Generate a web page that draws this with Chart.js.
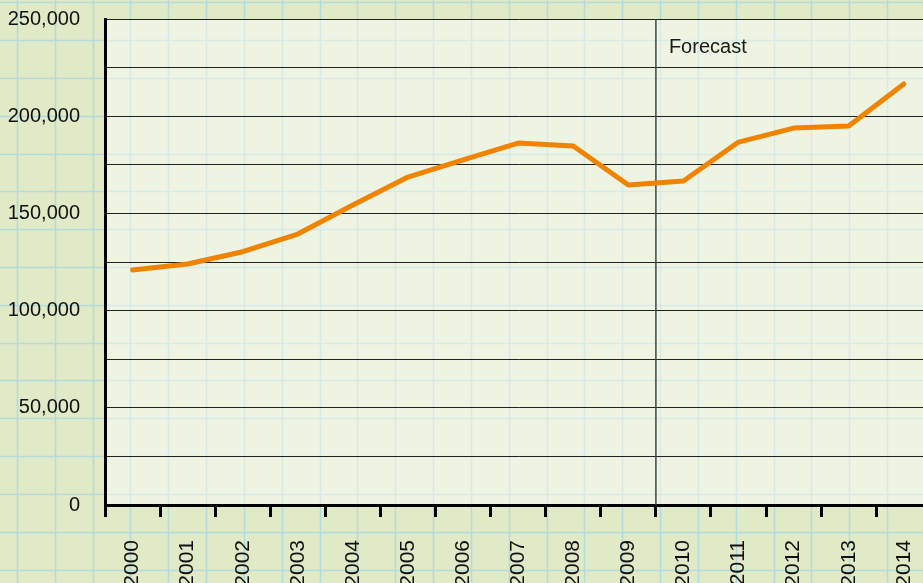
<!DOCTYPE html>
<html lang="en">
  <head>
    <meta charset="UTF-8" />
    <title>Forecast Chart</title>
    <script src="https://cdn.jsdelivr.net/npm/chart.js@4.4.0/dist/chart.umd.min.js"></script>
    <style>
      html, body { margin: 0; padding: 0; overflow: hidden; background: #e1eac6; }
      #wrap { width: 923px; height: 583px; overflow: hidden; }
      #chart { display: block; margin-top: -18px; }
    </style>
  </head>
  <body>
    <div id="wrap">
      <canvas id="chart" width="952" height="601"></canvas>
    </div>

    <script>
      // Chart data
      const years = ["2000", "2001", "2002", "2003", "2004", "2005", "2006", "2007",
                     "2008", "2009", "2010", "2011", "2012", "2013", "2014"];
      const values = [120900, 124000, 130300, 139400, 154300, 168700, 177500, 186200,
                      184700, 164600, 166700, 186700, 193900, 195000, 216600];
      const forecastStart = "2010";
      const forecastLabel = "Forecast";

      const FONT = "'Liberation Sans', Arial, sans-serif";
      const PAPER = 37.83;
      const SHIFT = 18; // canvas is pulled up by this much

      // graph paper background + forecast divider
      const paperPlugin = {
        id: "paper",
        beforeDraw(chart) {
          const { ctx, chartArea: a, width, height } = chart;
          ctx.save();
          ctx.fillStyle = "#e1eac6";
          ctx.fillRect(0, 0, width, height);
          ctx.fillStyle = "#eef3e2";
          ctx.fillRect(a.left, a.top, a.right - a.left, a.bottom - a.top);

          function lines(color, clip) {
            ctx.save();
            ctx.beginPath();
            if (clip) ctx.rect(a.left, a.top, a.right - a.left, a.bottom - a.top);
            else {
              ctx.rect(0, 0, width, height);
              ctx.rect(a.left, a.top, a.right - a.left, a.bottom - a.top);
            }
            ctx.clip("evenodd");
            ctx.strokeStyle = color;
            ctx.lineWidth = 1.5;
            ctx.beginPath();
            for (let x = 17; x < width; x += PAPER) {
              ctx.moveTo(Math.round(x) + 0.5, 0);
              ctx.lineTo(Math.round(x) + 0.5, height);
            }
            for (let y = 2.2 + SHIFT - PAPER; y < height; y += PAPER) {
              ctx.moveTo(0, Math.round(y) + 0.5);
              ctx.lineTo(width, Math.round(y) + 0.5);
            }
            ctx.stroke();
            ctx.restore();
          }
          lines("#b3dbdc", false);
          lines("#d6ebe6", true);
          ctx.restore();
        },
        beforeDatasetsDraw(chart) {
          const { ctx, chartArea: a, scales } = chart;
          const i = years.indexOf(forecastStart);
          const x = (scales.x.getPixelForValue(i - 1) + scales.x.getPixelForValue(i)) / 2;
          ctx.save();
          ctx.strokeStyle = "#444";
          ctx.lineWidth = 1.5;
          ctx.beginPath();
          ctx.moveTo(x, a.top);
          ctx.lineTo(x, a.bottom);
          ctx.stroke();
          ctx.fillStyle = "#1a1a1a";
          ctx.font = "20px " + FONT;
          ctx.textBaseline = "alphabetic";
          ctx.fillText(forecastLabel, x + 13, a.top + 34);
          ctx.restore();
        },
      };

      new Chart(document.getElementById("chart"), {
        type: "line",
        data: {
          labels: years,
          datasets: [
            {
              data: values,
              borderColor: "#f08300",
              borderWidth: 5,
              borderCapStyle: "round",
              borderJoinStyle: "round",
              pointRadius: 0,
              tension: 0,
              fill: false,
            },
          ],
        },
        options: {
          responsive: false,
          animation: false,
          layout: { padding: { top: 1, left: 0, right: 0, bottom: 0 } },
          plugins: { legend: { display: false }, tooltip: { enabled: false } },
          scales: {
            x: {
              offset: true,
              afterFit: (s) => { s.height = 78; },
              grid: {
                offset: true,
                drawOnChartArea: false,
                drawTicks: true,
                tickLength: 12,
                tickWidth: 3,
                tickColor: "#000",
              },
              border: { display: true, width: 3, color: "#000" },
              ticks: {
                minRotation: 90,
                maxRotation: 90,
                padding: 23,
                color: "#111",
                font: { family: FONT, size: 21 },
              },
            },
            y: {
              min: 0,
              max: 250000,
              afterFit: (s) => { s.width = 105; },
              grid: { color: "#222", lineWidth: 1, drawTicks: false },
              border: { display: true, width: 3, color: "#000" },
              ticks: {
                stepSize: 25000,
                padding: 25,
                color: "#111",
                font: { family: FONT, size: 20 },
                callback: (v) => (v % 50000 === 0 ? v.toLocaleString("en-US") : ""),
              },
            },
          },
        },
        plugins: [paperPlugin],
      });
    </script>
  </body>
</html>
